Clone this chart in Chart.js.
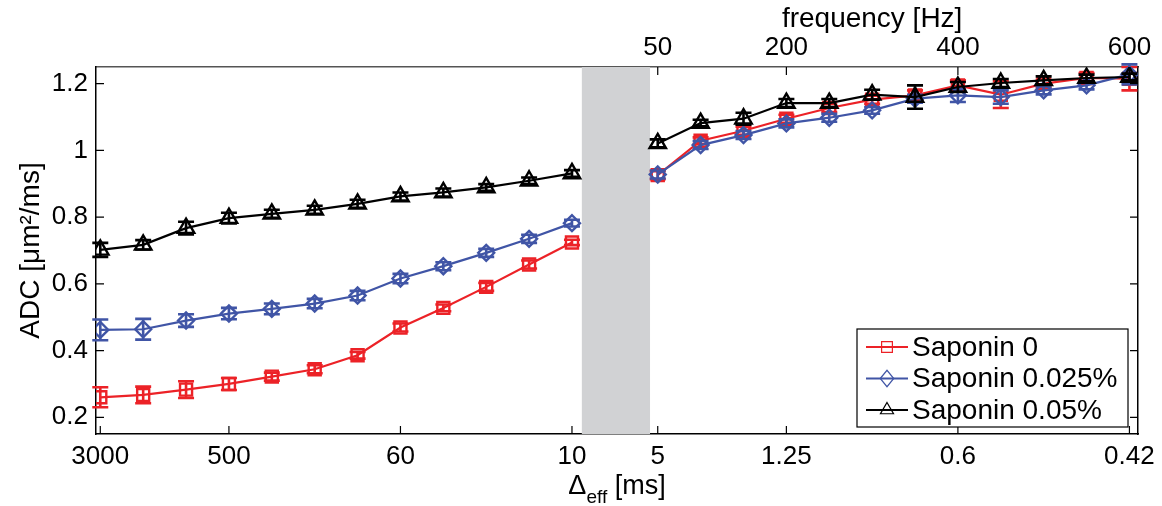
<!DOCTYPE html>
<html>
<head>
<meta charset="utf-8">
<script src="https://cdn.jsdelivr.net/npm/chart.js@4.4.0/dist/chart.umd.min.js"></script>
<style>
  html, body { margin: 0; padding: 0; background: #fff; }
  #wrap { width: 1162px; height: 506px; }
</style>
</head>
<body>
<div id="wrap"><canvas id="adcChart" width="1162" height="506"></canvas></div>
<script>
// ===== DATA =====
// x slot of each measurement: 0-11 = PGSE diffusion times, 13-24 = OGSE frequencies
const slots = [0, 1, 2, 3, 4, 5, 6, 7, 8, 9, 10, 11, 13, 14, 15, 16, 17, 18, 19, 20, 21, 22, 23, 24];
const deltaTicks = [0, 3, 7, 11, 13, 16, 20, 24];
const deltaLabels = ['3000', '500', '60', '10', '5', '1.25', '0.6', '0.42'];
const freqTicks = [13, 16, 20, 24];
const freqLabels = ['50', '200', '400', '600'];
const gapBand = [11.23, 12.82];
const adcTicks = [0.2, 0.4, 0.6, 0.8, 1, 1.2];

const sap0 = [0.26, 0.267, 0.283, 0.30, 0.322, 0.344, 0.386, 0.469, 0.528, 0.591, 0.658, 0.724,
              0.926, 1.029, 1.059, 1.095, 1.127, 1.152, 1.165, 1.195, 1.167, 1.20, 1.217, 1.215];
const sap0Err = [0.03, 0.025, 0.025, 0.018, 0.012, 0.012, 0.01, 0.012, 0.01, 0.012, 0.012, 0.008,
                 0.012, 0.01, 0.012, 0.012, 0.012, 0.012, 0.015, 0.015, 0.04, 0.012, 0.015, 0.035];
const sap025 = [0.462, 0.464, 0.49, 0.511, 0.525, 0.541, 0.565, 0.616, 0.653, 0.693, 0.735, 0.782,
                0.928, 1.016, 1.046, 1.081, 1.098, 1.12, 1.155, 1.165, 1.16, 1.18, 1.195, 1.228];
const sap025Err = [0.031, 0.031, 0.019, 0.017, 0.016, 0.014, 0.014, 0.014, 0.012, 0.012, 0.012, 0.01,
                   0.012, 0.012, 0.012, 0.012, 0.012, 0.01, 0.012, 0.02, 0.02, 0.012, 0.012, 0.03];
const sap05 = [0.702, 0.717, 0.767, 0.797, 0.81, 0.822, 0.84, 0.862, 0.874, 0.889, 0.909, 0.931,
               1.021, 1.082, 1.095, 1.142, 1.142, 1.167, 1.16, 1.19, 1.202, 1.21, 1.217, 1.22];
const sap05Err = [0.021, 0.014, 0.019, 0.016, 0.012, 0.012, 0.012, 0.012, 0.012, 0.01, 0.01, 0.01,
                  0.012, 0.01, 0.018, 0.012, 0.012, 0.015, 0.035, 0.015, 0.012, 0.012, 0.01, 0.01];

const FONT = "'Liberation Sans', Arial, Helvetica, sans-serif";
const RED = '#ec2227';
const BLUE = '#4055a6';
const BLACK = '#000000';

// points with a null entry in the blank slot so the line breaks there
function series(vals, errs) {
  const pts = slots.map((x, i) => ({ x, y: vals[i], e: errs[i] }));
  pts.splice(12, 0, { x: 12, y: null, e: 0 });
  return pts;
}

// ===== PLUGINS =====
const grayBand = {
  id: 'grayBand',
  beforeDatasetsDraw(chart) {
    const { ctx, chartArea, scales } = chart;
    const x0 = scales.x.getPixelForValue(gapBand[0]);
    const x1 = scales.x.getPixelForValue(gapBand[1]);
    ctx.save();
    ctx.fillStyle = '#d1d2d4';
    ctx.fillRect(x0, chartArea.top, x1 - x0, chartArea.bottom - chartArea.top);
    ctx.restore();
  }
};

const errorBars = {
  id: 'errorBars',
  afterDatasetDraw(chart, args) {
    const ds = chart.data.datasets[args.index];
    const { ctx, scales } = chart;
    const cap = 8;
    ctx.save();
    ctx.strokeStyle = ds.borderColor;
    ctx.lineWidth = 2.6;
    ds.data.forEach(p => {
      if (p.y == null) return;
      const px = scales.x.getPixelForValue(p.x);
      const top = scales.y.getPixelForValue(p.y + p.e);
      const bot = scales.y.getPixelForValue(p.y - p.e);
      ctx.beginPath();
      ctx.moveTo(px, top); ctx.lineTo(px, bot);
      ctx.moveTo(px - cap, top); ctx.lineTo(px + cap, top);
      ctx.moveTo(px - cap, bot); ctx.lineTo(px + cap, bot);
      ctx.stroke();
    });
    ctx.restore();
  }
};

const innerTicks = {
  id: 'innerTicks',
  afterDatasetsDraw(chart) {
    const { ctx, chartArea: a, scales } = chart;
    const len = 8;
    ctx.save();
    ctx.strokeStyle = '#000';
    ctx.lineWidth = 1.2;
    ctx.beginPath();
    adcTicks.forEach(v => {
      const py = scales.y.getPixelForValue(v);
      ctx.moveTo(a.left, py); ctx.lineTo(a.left + len, py);
      ctx.moveTo(a.right, py); ctx.lineTo(a.right - len, py);
    });
    deltaTicks.forEach(v => {
      const px = scales.x.getPixelForValue(v);
      ctx.moveTo(px, a.bottom); ctx.lineTo(px, a.bottom - len);
    });
    freqTicks.forEach(v => {
      const px = scales.xTop.getPixelForValue(v);
      ctx.moveTo(px, a.top); ctx.lineTo(px, a.top + len);
    });
    ctx.stroke();
    ctx.restore();
  }
};

function marker(ctx, style, x, y, r) {
  ctx.beginPath();
  if (style === 'rect') {
    ctx.rect(x - r * 0.72, y - r * 0.72, r * 1.44, r * 1.44);
  } else if (style === 'rectRot') {
    ctx.moveTo(x - r * 0.9, y); ctx.lineTo(x, y - r * 1.1); ctx.lineTo(x + r * 0.9, y); ctx.lineTo(x, y + r * 1.1); ctx.closePath();
  } else {
    ctx.moveTo(x, y - r); ctx.lineTo(x + r * 0.87, y + r * 0.5); ctx.lineTo(x - r * 0.87, y + r * 0.5); ctx.closePath();
  }
  ctx.stroke();
}

const axisText = {
  id: 'axisText',
  afterDraw(chart) {
    const { ctx, scales, chartArea: a } = chart;
    ctx.save();
    ctx.fillStyle = '#000';
    ctx.textBaseline = 'alphabetic';
    // top axis title
    ctx.font = '28px ' + FONT;
    ctx.textAlign = 'center';
    ctx.fillText('frequency [Hz]', scales.xTop.getPixelForValue(18), 27);
    // bottom axis title: Δ_eff [ms]
    const base = 494;
    ctx.font = '27px ' + FONT;
    const w1 = ctx.measureText('\u0394').width;
    ctx.font = '19px ' + FONT;
    const w2 = ctx.measureText('eff').width;
    ctx.font = '27px ' + FONT;
    const w3 = ctx.measureText(' [ms]').width;
    let x = (a.left + a.right) / 2 - (w1 + w2 + w3) / 2;
    ctx.textAlign = 'left';
    ctx.fillText('\u0394', x, base);
    x += w1;
    ctx.font = '19px ' + FONT;
    ctx.fillText('eff', x, base + 9);
    x += w2;
    ctx.font = '27px ' + FONT;
    ctx.fillText(' [ms]', x, base);
    ctx.restore();
  }
};

const boxLegend = {
  id: 'boxLegend',
  afterDraw(chart) {
    const { ctx } = chart;
    const bx = 857, by = 329, bw = 271, bh = 98;
    ctx.save();
    ctx.fillStyle = '#fff';
    ctx.fillRect(bx, by, bw, bh);
    ctx.strokeStyle = '#000';
    ctx.lineWidth = 1.2;
    ctx.strokeRect(bx, by, bw, bh);
    ctx.font = '28px ' + FONT;
    ctx.textBaseline = 'middle';
    ctx.textAlign = 'left';
    chart.data.datasets.forEach((ds, i) => {
      const cy = by + 18 + i * 31.5;
      ctx.strokeStyle = ds.borderColor;
      ctx.lineWidth = 2;
      ctx.beginPath();
      ctx.moveTo(bx + 9, cy); ctx.lineTo(bx + 51, cy);
      ctx.stroke();
      ctx.lineWidth = 1.2;
      marker(ctx, ds.pointStyle, bx + 30, cy, 7.5);
      ctx.fillStyle = '#000';
      ctx.fillText(ds.label, bx + 55, cy + 1);
    });
    ctx.restore();
  }
};

// ===== CHART =====
const tickFont = { family: FONT, size: 26 };

new Chart(document.getElementById('adcChart'), {
  type: 'line',
  data: {
    datasets: [
      { label: 'Saponin 0', data: series(sap0, sap0Err), borderColor: RED, pointStyle: 'rect',
        pointRadius: 8.5, order: 3 },
      { label: 'Saponin 0.025%', data: series(sap025, sap025Err), borderColor: BLUE, pointStyle: 'rectRot',
        pointRadius: 8, order: 2 },
      { label: 'Saponin 0.05%', data: series(sap05, sap05Err), borderColor: BLACK, pointStyle: 'triangle',
        pointRadius: 9.5, order: 1 }
    ].map(d => Object.assign(d, {
      borderWidth: 2.2, pointBorderWidth: 2.4, pointBackgroundColor: 'rgba(0,0,0,0)',
      pointBorderColor: d.borderColor, tension: 0, spanGaps: false, fill: false
    }))
  },
  options: {
    responsive: false,
    animation: false,
    layout: { padding: 0 },
    plugins: { legend: { display: false }, tooltip: { enabled: false } },
    scales: {
      x: {
        type: 'linear', position: 'bottom', min: -0.1, max: 24.2,
        afterBuildTicks: s => { s.ticks = deltaTicks.map(v => ({ value: v })); },
        afterFit: s => { s.height = 72; },
        grid: { display: false, drawTicks: false },
        border: { display: true, color: '#000', width: 1.5 },
        ticks: { font: tickFont, color: '#000', padding: 7, maxRotation: 0, autoSkip: false,
                 callback: v => deltaLabels[deltaTicks.indexOf(v)] }
      },
      xTop: {
        type: 'linear', position: 'top', min: -0.1, max: 24.2,
        afterBuildTicks: s => { s.ticks = freqTicks.map(v => ({ value: v })); },
        afterFit: s => { s.height = 67; },
        grid: { display: false, drawTicks: false },
        border: { display: true, color: '#555', width: 1.5 },
        ticks: { font: tickFont, color: '#000', padding: 4, maxRotation: 0, autoSkip: false,
                 callback: v => freqLabels[freqTicks.indexOf(v)] }
      },
      y: {
        type: 'linear', position: 'left', min: 0.15, max: 1.25,
        afterBuildTicks: s => { s.ticks = adcTicks.map(v => ({ value: v })); },
        afterFit: s => { s.width = 96; },
        grid: { display: false, drawTicks: false },
        border: { display: true, color: '#000', width: 1.5 },
        ticks: { font: tickFont, color: '#000', padding: 8, callback: v => String(+v.toFixed(1)) },
        title: { display: true, text: 'ADC [\u03bcm\u00b2/ms]', font: { family: FONT, size: 28 }, color: '#000',
                 padding: { top: 14, bottom: 0 } }
      },
      y2: {
        type: 'linear', position: 'right', min: 0.15, max: 1.25,
        afterFit: s => { s.width = 24; },
        grid: { display: false, drawTicks: false },
        border: { display: true, color: '#000', width: 1.5 },
        ticks: { display: false }
      }
    }
  },
  plugins: [grayBand, errorBars, innerTicks, axisText, boxLegend]
});
</script>
</body>
</html>
